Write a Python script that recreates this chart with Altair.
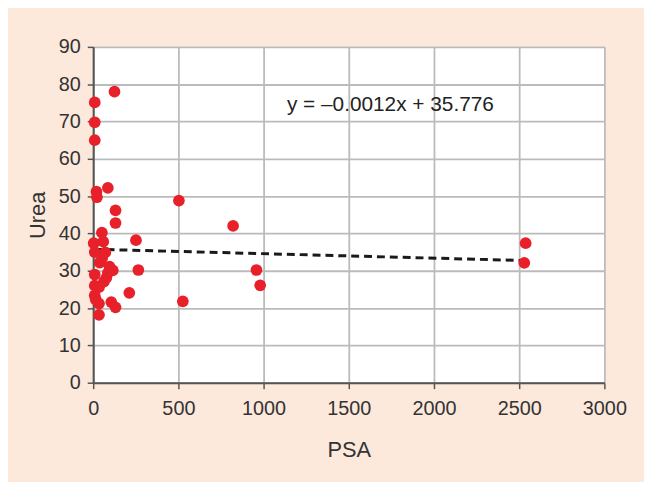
import altair as alt
import pandas as pd

psa = [9, 9, 9, 125, 19, 22, 86, 503, 131, 131, 51, 59, 3, 9, 71, 38, 53, 96, 115, 86,
       9, 77, 63, 9, 34, 9, 15, 34, 106, 131, 34, 212, 251, 265, 526, 821, 958, 980, 2538, 2530]
urea = [75.1, 69.8, 65.0, 78.0, 51.2, 49.7, 52.2, 48.8, 46.2, 42.8, 40.2, 37.8, 37.4, 35.0, 34.9,
        32.2, 33.4, 31.1, 30.1, 29.4, 29.0, 28.1, 27.1, 26.0, 25.6, 23.4, 22.3, 21.2, 21.6, 20.2,
        18.2, 24.1, 38.2, 30.2, 21.8, 42.0, 30.2, 26.1, 37.4, 32.1]
x_ticks = [0, 500, 1000, 1500, 2000, 2500, 3000]
y_ticks = [0, 10, 20, 30, 40, 50, 60, 70, 80, 90]
slope = -0.0012
intercept = 35.776
equation = "y = \u20130.0012x + 35.776"

df = pd.DataFrame({"PSA": psa, "Urea": urea})
line_df = pd.DataFrame({"PSA": [min(psa), max(psa)]})
line_df["Urea"] = slope * line_df["PSA"] + intercept

FONT = "Liberation Sans"

xscale = alt.Scale(domain=[0, 3000], nice=False)
yscale = alt.Scale(domain=[0, 90], nice=False)

xaxis = alt.Axis(title="PSA", values=x_ticks, format="d", labelOverlap=False,
                 labelPadding=10, titlePadding=22)
yaxis = alt.Axis(title="Urea", values=y_ticks, format="d", labelOverlap=False,
                 labelPadding=7, titlePadding=9)

trend = alt.Chart(line_df).mark_line(color="#1a1a1a", strokeWidth=3, strokeDash=[8, 5]).encode(
    x=alt.X("PSA:Q", scale=xscale, axis=xaxis),
    y=alt.Y("Urea:Q", scale=yscale, axis=yaxis),
)

points = alt.Chart(df).mark_circle(size=140, color="#E8202A", opacity=1).encode(
    x=alt.X("PSA:Q", scale=xscale, axis=xaxis),
    y=alt.Y("Urea:Q", scale=yscale, axis=yaxis),
)

label = alt.Chart(pd.DataFrame({"t": [equation]})).mark_text(
    fontSize=21, font=FONT, color="#222222", align="center", baseline="middle"
).encode(
    x=alt.value(300), y=alt.value(59), text="t:N"
)

chart = (trend + points + label).properties(
    width=516, height=339,
    background="#FDE9DC",
    padding={"left": 86, "top": 37, "right": 40, "bottom": 98},
    autosize=alt.AutoSizeParams(type="none"),
).configure_view(fill="white", stroke=None).configure_axis(
    labelFont=FONT, titleFont=FONT, labelColor="#333333", titleColor="#333333",
    labelFontSize=20, titleFontSize=22, titleFontWeight="normal",
    domainColor="#555555", domainWidth=2, tickColor="#555555", tickWidth=1.5, tickSize=6,
    gridColor="#BBBBBB", gridWidth=1.8, labelFlush=False,
)

chart.save("out.html", embed_options={"renderer": "svg", "actions": False})
